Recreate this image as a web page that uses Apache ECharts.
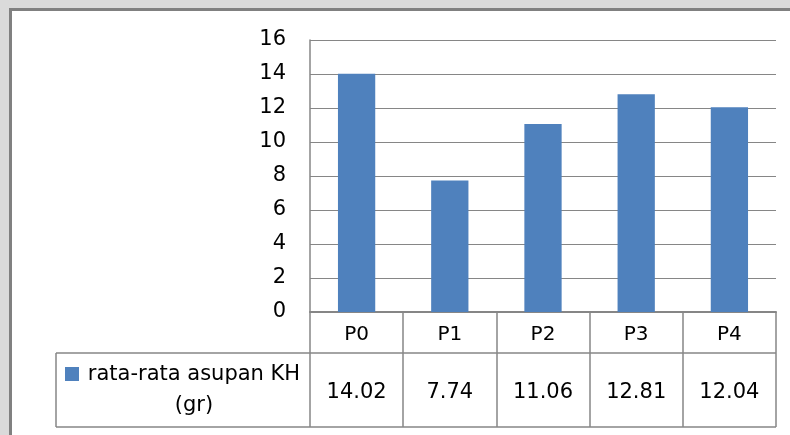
<!DOCTYPE html>
<html>
<head>
<meta charset="utf-8">
<script src="https://cdn.jsdelivr.net/npm/echarts@6/dist/echarts.min.js"></script>
<style>
  html, body { margin: 0; padding: 0; background: #dadada; }
  #chart { width: 790px; height: 435px; }
</style>
</head>
<body>
<div id="chart"></div>
<script>
// Mean carbohydrate intake per group
const categories = ['P0', 'P1', 'P2', 'P3', 'P4'];
const intakeKH = [14.02, 7.74, 11.06, 12.81, 12.04];
const seriesName = 'rata-rata asupan KH (gr)';
const legendLines = ['rata-rata asupan KH', '(gr)'];
const yTicks = { min: 0, max: 16, interval: 2 };

const FONT = 'DejaVu Sans';
const LINE = '#868686';
const BAR = '#4f81bd';

// plot frame
const plotLeft = 310, plotTop = 40, plotRight = 776, plotBottom = 312;
// data table below the plot
const headBottom = 353, tableBottom = 427, tableLeft = 56;

const chart = echarts.init(document.getElementById('chart'));

chart.setOption({
  animation: false,
  backgroundColor: 'transparent',
  grid: {
    left: plotLeft, top: plotTop,
    width: plotRight - plotLeft, height: plotBottom - plotTop,
    containLabel: false
  },
  xAxis: [{
    type: 'category',
    data: categories,
    boundaryGap: true,
    axisLine: { show: true, lineStyle: { color: LINE, width: 2 } },
    axisTick: { show: true, interval: 0, length: tableBottom - plotBottom, lineStyle: { color: LINE, width: 1.5 } },
    axisLabel: { interval: 0, margin: 13, color: '#000', fontFamily: FONT, fontSize: 20 },
    splitLine: { show: false }
  }, {
    // value row of the data table
    type: 'category',
    data: intakeKH.map(v => v.toFixed(2)),
    position: 'bottom',
    offset: 59,
    axisLine: { show: false },
    axisTick: { show: false },
    axisLabel: { interval: 0, margin: 11, color: '#000', fontFamily: FONT, fontSize: 21 },
    splitLine: { show: false }
  }],
  yAxis: {
    type: 'value',
    min: yTicks.min, max: yTicks.max, interval: yTicks.interval,
    axisLine: { show: true, lineStyle: { color: LINE, width: 1.5 } },
    axisTick: { show: false },
    axisLabel: { margin: 24, color: '#000', fontFamily: FONT, fontSize: 21, padding: [3, 0, 0, 0] },
    splitLine: { show: true, lineStyle: { color: LINE, width: 1.2 } }
  },
  series: [{
    name: seriesName,
    type: 'bar',
    xAxisIndex: 0,
    data: intakeKH,
    barWidth: '40%',
    itemStyle: { color: BAR }
  }],
  graphic: [
    // chart frame
    { type: 'rect', shape: { x: 11, y: 11, width: 779, height: 424 }, style: { fill: '#ffffff' }, z: -10 },
    { type: 'rect', shape: { x: 9, y: 8, width: 781, height: 3 }, style: { fill: '#808080' }, z: -9 },
    { type: 'rect', shape: { x: 9, y: 8, width: 3, height: 427 }, style: { fill: '#808080' }, z: -9 },
    // data table rules
    { type: 'line', shape: { x1: tableLeft, y1: headBottom, x2: plotRight, y2: headBottom }, style: { stroke: LINE, lineWidth: 1.5 } },
    { type: 'line', shape: { x1: tableLeft, y1: tableBottom, x2: plotRight, y2: tableBottom }, style: { stroke: LINE, lineWidth: 1.5 } },
    { type: 'line', shape: { x1: tableLeft, y1: headBottom, x2: tableLeft, y2: tableBottom }, style: { stroke: LINE, lineWidth: 1.5 } },
    // legend key inside the table
    { type: 'rect', shape: { x: 65, y: 367, width: 14, height: 14 }, style: { fill: BAR } },
    {
      type: 'text', x: 194, y: 375,
      style: { text: legendLines[0], font: '21px "' + FONT + '"', fill: '#000', textAlign: 'center', textVerticalAlign: 'middle' }
    },
    {
      type: 'text', x: 194, y: 406,
      style: { text: legendLines[1], font: '21px "' + FONT + '"', fill: '#000', textAlign: 'center', textVerticalAlign: 'middle' }
    }
  ]
});
</script>
</body>
</html>
